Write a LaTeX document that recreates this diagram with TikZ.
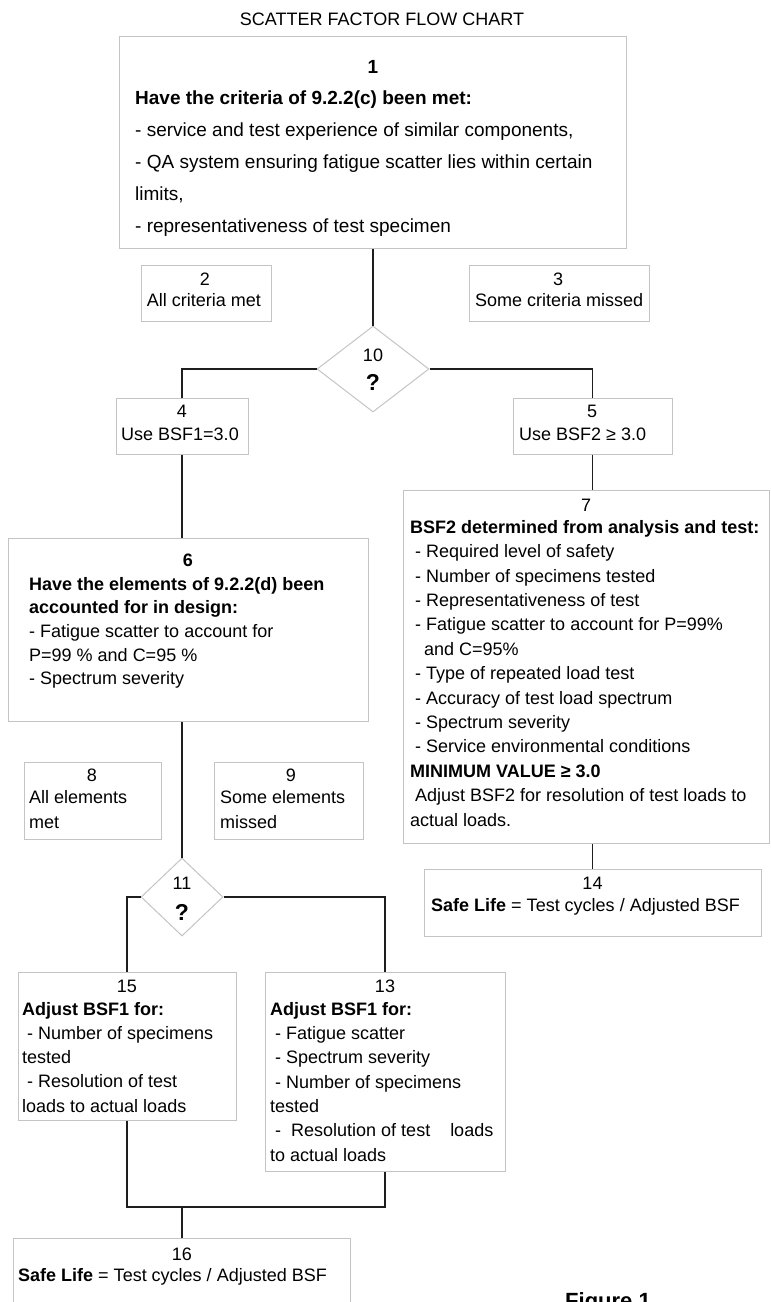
\documentclass[tikz,border=0pt]{standalone}
\usepackage{fontspec}
\setmainfont{Liberation Sans}
\usetikzlibrary{shapes.geometric}
\definecolor{boxgray}{HTML}{C4C4C4}
\definecolor{linecol}{HTML}{1E1E1E}
\begin{document}
\begin{tikzpicture}[x=1pt,y=-1pt,
  box/.style={draw=boxgray, line width=1pt, rectangle, inner sep=0pt},
  dia/.style={draw=boxgray, line width=1pt, diamond, inner sep=0pt},
  conn/.style={draw=linecol, line width=1.3pt},
  txt/.style={inner sep=0pt, anchor=north west, align=left, font=\fontsize{18}{24.4}\selectfont},
  num/.style={inner sep=0pt, anchor=base, font=\fontsize{18}{22}\selectfont},
  lbl/.style={inner sep=0pt, anchor=base west, font=\fontsize{18}{22}\selectfont},
  qm/.style={inner sep=0pt, anchor=base, font=\fontsize{23}{26}\selectfont\bfseries}
]
\useasboundingbox (0,0) rectangle (771,1302);

% title
\node[num] (title) at (382,25) {SCATTER FACTOR FLOW CHART};

% boxes
\node[box, minimum width=507pt, minimum height=212pt] (n1) at (373,142) {};
\node[box, minimum width=130pt, minimum height=56pt] (n2) at (206,293) {};
\node[box, minimum width=180pt, minimum height=56pt] (n3) at (559,293) {};
\node[dia, minimum width=112pt, minimum height=86pt] (d10) at (373,369) {};
\node[box, minimum width=132pt, minimum height=56pt] (n4) at (182,426) {};
\node[box, minimum width=159pt, minimum height=56pt] (n5) at (592.5,426) {};
\node[box, minimum width=360pt, minimum height=183pt] (n6) at (188,629.5) {};
\node[box, minimum width=366pt, minimum height=353pt] (n7) at (586,666.5) {};
\node[box, minimum width=137pt, minimum height=77pt] (n8) at (92.5,800.5) {};
\node[box, minimum width=149pt, minimum height=77pt] (n9) at (288.5,800.5) {};
\node[dia, minimum width=82pt, minimum height=78pt] (d11) at (182,897) {};
\node[box, minimum width=337pt, minimum height=67pt] (n14) at (592.5,902.5) {};
\node[box, minimum width=218pt, minimum height=148pt] (n15) at (127,1046) {};
\node[box, minimum width=240pt, minimum height=199pt] (n13) at (385,1071.5) {};
\node[box, minimum width=337pt, minimum height=82pt] (n16) at (182,1279) {};

% connectors
\draw[conn] (n1.south) -- (d10.north);
\draw[conn] (d10.west) -| (n4.north);
\draw[conn] (d10.east) -| (n5.north);
\draw[conn] (n5.south) -- (n5.south |- n7.north);
\draw[conn] (n4.south) -- (n4.south |- n6.north);
\draw[conn] (d11.north |- n6.south) -- (d11.north);
\draw[conn] (n14.north |- n7.south) -- (n14.north);
\draw[conn] (d11.west) -| (n15.north);
\draw[conn] (d11.east) -| (n13.north);
\coordinate (j) at (182,1207);
\draw[conn] (n15.south) |- (n13.south |- j) -- (n13.south);
\draw[conn] (j) -- (n16.north);

% box 1
\node[num, font=\fontsize{19}{22}\selectfont\bfseries] (l1) at (373,73.5) {1};
\node[txt, font=\fontsize{19}{32}\selectfont] (t1) at (135,91) {\textbf{Have the criteria of 9.2.2(c) been met:}\\- service and test experience of similar components,\\- QA system ensuring fatigue scatter lies within certain\\limits,\\- representativeness of test specimen};
% box 2, 3
\node[num] (l2) at (205,285.5) {2};
\node[num] (t2) at (204,306.5) {All criteria met};
\node[num] (l3) at (558,285.5) {3};
\node[lbl] (t3) at (475,306.5) {Some criteria missed};
% diamond 10
\node[num] (l10) at (373,361.5) {10};
\node[qm] (q10) at (373,390) {?};
% box 4, 5
\node[num] (l4) at (182,417.5) {4};
\node[num] (t4) at (180,440.5) {Use BSF1=3.0};
\node[num] (l5) at (592,417.5) {5};
\node[lbl] (t5) at (519,440.5) {Use BSF2 ≥ 3.0};
% box 6
\node[num, font=\fontsize{18}{22}\selectfont\bfseries] (l6) at (188,566.5) {6};
\node[txt, font=\fontsize{18}{23.6}\selectfont] (t6) at (29,577) {\textbf{Have the elements of 9.2.2(d) been}\\\textbf{accounted for in design:}\\- Fatigue scatter to account for\\P=99 \% and C=95 \%\\- Spectrum severity};
% box 7
\node[num] (l7) at (586,511.5) {7};
\node[txt] (t7) at (410,520) {\textbf{BSF2 determined from analysis and test:}\\\ - Required level of safety\\\ - Number of specimens tested\\\ - Representativeness of test\\\ - Fatigue scatter to account for P=99\%\\\hspace*{14pt}and C=95\%\\\ - Type of repeated load test\\\ - Accuracy of test load spectrum\\\ - Spectrum severity\\\ - Service environmental conditions\\\textbf{MINIMUM VALUE ≥ 3.0}\\\ Adjust BSF2 for resolution of test loads to\\actual loads.};
% box 8, 9
\node[num] (l8) at (92,781.5) {8};
\node[txt, font=\fontsize{18}{25}\selectfont] (t8) at (29,790) {All elements\\met};
\node[num] (l9) at (291,781.5) {9};
\node[txt, font=\fontsize{18}{25}\selectfont] (t9) at (220,790) {Some elements\\missed};
% diamond 11
\node[num] (l11) at (182,889.5) {11};
\node[qm] (q11) at (182,920) {?};
% box 14
\node[num] (l14) at (592.5,889.5) {14};
\node[lbl] (t14) at (431,911.5) {\textbf{Safe Life} = Test cycles / Adjusted BSF};
% box 15
\node[num] (l15) at (127,992.5) {15};
\node[txt, font=\fontsize{18}{24.2}\selectfont] (t15) at (22,1002) {\textbf{Adjust BSF1 for:}\\\ - Number of specimens\\tested\\\ - Resolution of test\\loads to actual loads};
% box 13
\node[num] (l13) at (385,992.5) {13};
\node[txt, font=\fontsize{18}{24.3}\selectfont] (t13) at (270,1002) {\textbf{Adjust BSF1 for:}\\\ - Fatigue scatter\\\ - Spectrum severity\\\ - Number of specimens\\tested\\\ -\ \ Resolution of test\ \ \ \ loads\\to actual loads};
% box 16
\node[num] (l16) at (182,1260.5) {16};
\node[lbl] (t16) at (18,1281.5) {\textbf{Safe Life} = Test cycles / Adjusted BSF};
% caption
\node[lbl, font=\fontsize{22}{26}\selectfont\bfseries] (fig) at (565,1308) {Figure 1};
\end{tikzpicture}
\end{document}
